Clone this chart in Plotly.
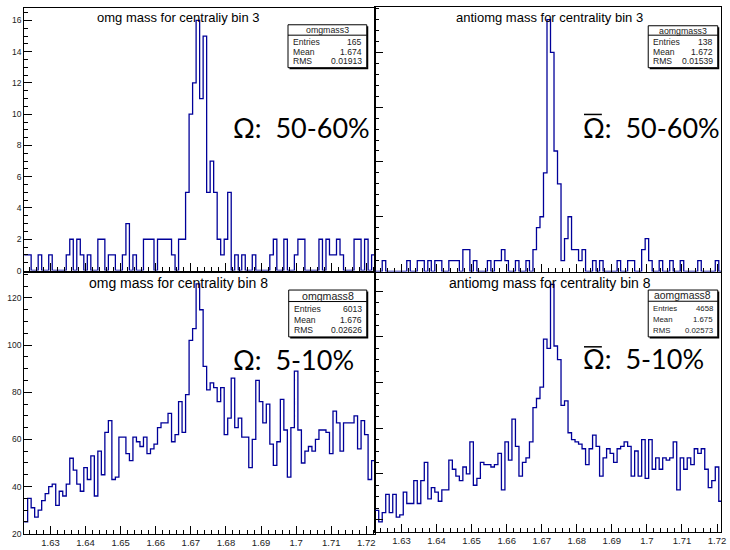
import plotly.graph_objects as go

# ---------------- data ----------------
bin_low = 1.6225
bin_width = 0.001

omg3 = [1,1,0,0,1,0,0,1,0,0, 0,0,1,2,0,2,1,0,1,0, 0,2,2,0,1,1,0,0,1,3,
        0,1,0,0,2,2,2,0,2,2, 2,2,1,0,2,2,5,10,12,16, 11,15,5,7,5,2,1,2,5,0,
        1,0,1,0,0,1,0,0,0,0, 1,2,0,0,2,0,0,1,2,2, 0,0,0,0,2,0,2,1,1,2,
        1,0,0,0,2,2,0,2,0,1]

aomg3 = [0,0,1,0,0,0,0,0,0,1, 0,0,1,1,0,1,0,1,1,0, 0,1,1,1,0,2,2,0,1,0,
         0,0,1,0,1,1,2,1,0,0, 1,0,0,1,0,2,4,5,9,23, 20,11,8,1,3,5,2,2,1,2,
         0,0,1,0,1,0,0,0,0,1, 0,0,1,1,0,0,2,3,1,0, 0,1,0,0,1,0,0,1,0,0,
         0,0,1,0,0,0,0,1,0,0]

omg8 = [25,35,31,27,30,34,37,40,41,32, 38,36,41,52,47,41,38,48,43,53,
        36,55,45,63,68,43,44,61,61,54, 51,61,59,57,61,54,56,58,65,67,
        67,71,59,62,76,63,79,102,107,126, 115,91,81,84,82,76,82,62,69,86,
        65,69,61,61,48,60,85,76,67,75, 58,49,59,77,64,44,65,89,64,50,
        55,57,55,60,64,64,63,54,72,67, 55,67,67,67,70,56,68,62,43,51]

aomg8 = [24,19,23,31,23,31,21,22,32,27, 27,37,27,37,45,29,34,32,28,33,
         33,46,42,39,37,43,40,54,35,38, 45,44,44,43,44,49,33,54,46,64,
         52,39,45,47,54,69,73,78,99,95, 123,96,90,70,72,58,55,54,53,51,
         44,51,57,52,39,47,51,49,45,51, 52,54,52,39,50,39,55,38,55,42,
         47,42,47,46,47,54,33,47,42,47, 44,51,49,51,42,34,37,43,28,35]

x_tick_vals = [1.63, 1.64, 1.65, 1.66, 1.67, 1.68, 1.69, 1.70, 1.71, 1.72]
x_tick_text = ["1.63", "1.64", "1.65", "1.66", "1.67", "1.68", "1.69", "1.7", "1.71", "1.72"]
y_top_vals = [0, 2, 4, 6, 8, 10, 12, 14, 16]
y_top_text = ["0", "2", "4", "6", "8", "10", "12", "14", "16"]
y_bot_vals = [20, 40, 60, 80, 100, 120]
y_bot_text = ["20", "40", "60", "80", "100", "120"]

titles = ["omg mass for centraliy bin 3", "antiomg mass for centrality bin 3",
          "omg mass for centrality bin 8", "antiomg mass for centrality bin 8"]
stat_names = ["omgmass3", "aomgmass3", "omgmass8", "aomgmass8"]
stat_entries = ["165", "138", "6013", "4658"]
stat_means = ["1.674", "1.672", "1.676", "1.675"]
stat_rms = ["0.01913", "0.01539", "0.02626", "0.02573"]
labels = ["Ω:\u00a0\u00a050-60%", "Ω:\u00a0\u00a050-60%", "Ω:\u00a0\u00a05-10%", "Ω:\u00a0\u00a05-10%"]

# ---------------- layout helpers ----------------
W, H = 730, 550
def px(v):
    return v / W
def py(v):
    return 1 - v / H

LINE = "#000099"
FONT = "Liberation Sans, Arial, sans-serif"
BIG = "Lato, Noto Sans, sans-serif"

fig = go.Figure()

def add_hist(vals, xa, ya):
    edges = [bin_low + bin_width * i for i in range(len(vals) + 1)]
    fig.add_trace(go.Scatter(x=edges, y=list(vals) + [vals[-1]], mode="lines",
                             line=dict(shape="hv", color=LINE, width=1.3),
                             xaxis=xa, yaxis=ya, hoverinfo="skip", showlegend=False,
                             cliponaxis=True))

add_hist(omg3, "x", "y")
add_hist(aomg3, "x2", "y2")
add_hist(omg8, "x3", "y3")
add_hist(aomg8, "x4", "y4")

right_x_end = bin_low + (726 - 377.8) / 3530.0

def xax(dom, rng, anchor, labels_on):
    return dict(domain=[px(dom[0]), px(dom[1])], range=rng, anchor=anchor,
                showline=True, mirror=True, linecolor="black", linewidth=1,
                showgrid=False, zeroline=False, ticks="inside", ticklen=8,
                tickcolor="black", tickwidth=1,
                tickmode="array", tickvals=x_tick_vals, ticktext=x_tick_text,
                showticklabels=labels_on, ticklabeloverflow="allow",
                tickfont=dict(family=FONT, size=9.5, color="#222"),
                minor=dict(ticks="inside", ticklen=4, tickcolor="black",
                           dtick=0.002, tick0=1.63, showgrid=False))

def yax(dom, rng, anchor, vals, text, minor_dt, labels_on):
    return dict(domain=[py(dom[1]), py(dom[0])], range=rng, anchor=anchor,
                showline=True, mirror=True, linecolor="black", linewidth=1,
                showgrid=False, zeroline=False, ticks="inside", ticklen=8,
                tickcolor="black", tickwidth=1,
                tickmode="array", tickvals=vals, ticktext=text,
                showticklabels=labels_on, ticklabeloverflow="allow",
                tickfont=dict(family=FONT, size=8.5, color="#222"),
                minor=dict(ticks="inside", ticklen=4, tickcolor="black",
                           dtick=minor_dt, tick0=0, showgrid=False))

fig.update_layout(
    width=W, height=H, margin=dict(l=0, r=0, t=0, b=0),
    paper_bgcolor="white", plot_bgcolor="white", showlegend=False,
    xaxis=xax((24.3, 377.7), [bin_low, bin_low + 0.1], "y", False),
    yaxis=yax((8, 273), [0, 16.8], "x", y_top_vals, y_top_text, 0.5, True),
    xaxis2=xax((377.8, 726), [bin_low, right_x_end], "y2", False),
    yaxis2=yax((7, 274), [0, 24.15], "x2", [0, 5, 10, 15, 20], ["0", "5", "10", "15", "20"], 1, False),
    xaxis3=xax((24.3, 377.7), [bin_low, bin_low + 0.1], "y3", True),
    yaxis3=yax((275, 538.6), [20, 130.8], "x3", y_bot_vals, y_bot_text, 5, True),
    xaxis4=xax((377.8, 726), [bin_low, right_x_end], "y4", True),
    yaxis4=yax((275, 536.7), [14.6, 128.2], "x4", y_bot_vals, y_bot_text, 5, False),
)

shapes = []
annotations = []

# titles
title_pos = [(180, 18, 13), (553, 18, 13), (179.5, 285.5, 14), (554, 285.5, 14)]
for t, (cx, cy, fs) in zip(titles, title_pos):
    annotations.append(dict(text=t, x=px(cx), y=py(cy), xref="paper", yref="paper",
                            xanchor="center", yanchor="middle", showarrow=False,
                            font=dict(family=FONT, size=fs, color="black")))

# stats boxes: (x0, x1, y_top, y_bottom, divider, header_y, rows_y, header_font, row_font)
boxes = [
    (290, 369.3, 25, 68.3, 35.5, 30.3, (42.3, 52.3, 62.0), 8.8, 8.6),
    (652.7, 722.7, 26, 68.3, 35.5, 30.8, (42.3, 52.3, 62.0), 8.8, 8.6),
    (290.7, 369.3, 292.7, 340, 304.3, 298.5, (311.5, 322.5, 333.5), 10.6, 8.6),
    (652.7, 722.7, 292.7, 340, 304.0, 298.5, (311.2, 322.3, 334.0), 10.4, 7.8),
]
for i, (x0, x1, yt, yb, ydiv, yh, rows, hf, rf) in enumerate(boxes):
    shapes.append(dict(type="rect", xref="paper", yref="paper",
                       x0=px(x0 + 1.5), x1=px(x1 + 1.5), y0=py(yb + 1.5), y1=py(yt + 1.5),
                       fillcolor="black", line=dict(width=0), layer="above"))
    shapes.append(dict(type="rect", xref="paper", yref="paper",
                       x0=px(x0), x1=px(x1), y0=py(yb), y1=py(yt),
                       fillcolor="white", line=dict(color="black", width=1), layer="above"))
    shapes.append(dict(type="line", xref="paper", yref="paper",
                       x0=px(x0), x1=px(x1), y0=py(ydiv), y1=py(ydiv),
                       line=dict(color="black", width=1), layer="above"))
    annotations.append(dict(text=stat_names[i], x=px((x0 + x1) / 2), y=py(yh),
                            xref="paper", yref="paper", xanchor="center", yanchor="middle",
                            showarrow=False, font=dict(family=FONT, size=hf, color="#222")))
    for name, val, ry in zip(["Entries", "Mean", "RMS"],
                             [stat_entries[i], stat_means[i], stat_rms[i]], rows):
        annotations.append(dict(text=name, x=px(x0 + 3), y=py(ry), xref="paper", yref="paper",
                                xanchor="left", yanchor="middle", showarrow=False,
                                font=dict(family=FONT, size=rf, color="#222")))
        annotations.append(dict(text=val, x=px(x1 - 3), y=py(ry), xref="paper", yref="paper",
                                xanchor="right", yanchor="middle", showarrow=False,
                                font=dict(family=FONT, size=rf, color="#222")))

# big centrality labels
big_pos = [(233, 129), (585, 129), (233, 363), (585, 362)]
for t, (lx, ly) in zip(labels, big_pos):
    annotations.append(dict(text=t, x=px(lx), y=py(ly), xref="paper", yref="paper",
                            xanchor="left", yanchor="middle", showarrow=False,
                            font=dict(family=BIG, size=27, color="black")))

# overlines on anti-omega symbols
for ly in (115.5, 350.0):
    shapes.append(dict(type="line", xref="paper", yref="paper",
                       x0=px(588), x1=px(606), y0=py(ly), y1=py(ly),
                       line=dict(color="black", width=1.5), layer="above"))

fig.update_layout(shapes=shapes, annotations=annotations)
fig.write_html("out.html",
               config={"displayModeBar": False},
               post_script="document.body.style.margin='0';document.body.style.overflow='hidden';")
